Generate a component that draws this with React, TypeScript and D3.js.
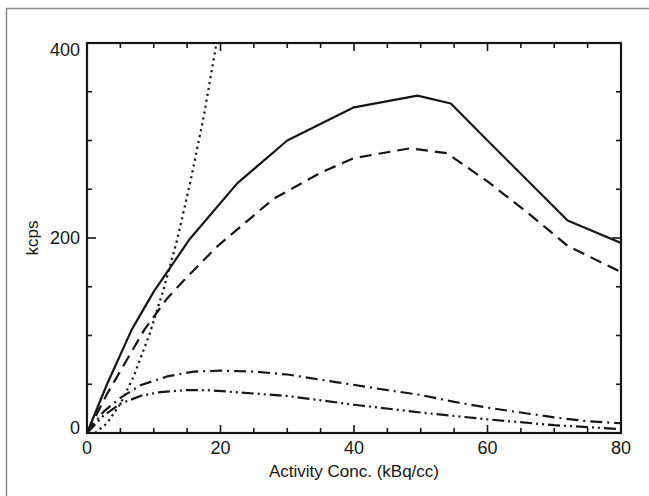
import React from 'react';
import * as d3 from 'd3';

// curves: [activity conc (kBq/cc), kcps]
const totalRate = [[0, 0], [3, 50], [6.7, 106], [10, 145], [15.4, 199], [22.5, 256], [30, 300], [40, 334], [49.5, 346], [54.5, 338], [60, 300], [66, 259], [72, 218], [80, 195]];
const trueRate = [[0, 0], [3, 40], [8.6, 106], [12, 138], [15, 160], [19.6, 192], [27.9, 240], [35, 267], [40, 282], [48.4, 292], [53.9, 287], [60, 258], [66, 226], [72, 192], [80, 165]];
const randomRate = [[1.2, 0], [3, 10], [5, 30], [7, 58], [9.4, 102], [11.5, 148], [13.5, 198], [15.5, 258], [17.5, 325], [19.4, 400], [20, 420]];
const scatterRate = [[0, 0], [2.5, 22], [5, 36], [8, 49], [12, 58], [16, 63], [20, 64], [25, 63], [30, 60], [37.5, 52], [45, 44], [50, 39], [55, 32], [60, 26], [65, 21], [70, 16], [75, 12], [80, 10]];
const multipleRate = [[0, 0], [2.5, 18], [5, 30], [8, 38], [11, 42], [15, 44], [18, 44], [22, 42], [30, 38], [40, 29], [50, 21], [60, 14], [70, 8], [75, 6], [80, 4]];

const xTicks = [0, 20, 40, 60, 80];
const yTicks = [0, 200, 400];

const W = 649;
const H = 496;
const m = { left: 87, right: 621, top: 43, bottom: 433 };
const ink = '#161616';
const font = '"Liberation Sans", Arial, sans-serif';

export default function App() {
  const x = d3.scaleLinear().domain([0, 80]).range([m.left, m.right]);
  const y = d3.scaleLinear().domain([0, 400]).range([m.bottom, m.top]);
  const line = d3.line<number[]>().x(d => x(d[0])).y(d => y(d[1]));

  const xMinor = d3.range(0, 81, 5);
  const yMinor = d3.range(0, 401, 50);

  const series = [
    { data: totalRate, dash: null },
    { data: trueRate, dash: '12,7' },
    { data: randomRate, dash: '2.2,3.8' },
    { data: scatterRate, dash: '12,5,2,5' },
    { data: multipleRate, dash: '12,4,2,4,2,4' },
  ];

  return (
    <svg width={W} height={H} style={{ position: 'absolute', left: 0, top: 0, background: '#fff' }}>
      <rect x={6.5} y={8.5} width={W + 10} height={H + 10} fill="none" stroke="#8a8a8a" strokeWidth={1.5} />
      <defs>
        <clipPath id="plot">
          <rect x={m.left} y={m.top} width={m.right - m.left} height={m.bottom - m.top} />
        </clipPath>
      </defs>

      <g clipPath="url(#plot)" fill="none" stroke={ink} strokeWidth={2.2}>
        {series.map((s, i) => (
          <path key={i} d={line(s.data) || ''} strokeDasharray={s.dash || undefined} strokeLinejoin="round" />
        ))}
      </g>

      <rect x={m.left} y={m.top} width={m.right - m.left} height={m.bottom - m.top} fill="none" stroke={ink} strokeWidth={2.2} />

      <g stroke={ink} strokeWidth={1.6}>
        {xMinor.map(v => {
          const len = v % 20 === 0 ? 8 : 5;
          return (
            <g key={'x' + v}>
              <line x1={x(v)} x2={x(v)} y1={m.bottom} y2={m.bottom - len} />
              <line x1={x(v)} x2={x(v)} y1={m.top} y2={m.top + len} />
            </g>
          );
        })}
        {yMinor.map(v => {
          const len = v % 200 === 0 ? 9 : 5;
          return (
            <g key={'y' + v}>
              <line x1={m.left} x2={m.left + len} y1={y(v)} y2={y(v)} />
              <line x1={m.right} x2={m.right - len} y1={y(v)} y2={y(v)} />
            </g>
          );
        })}
      </g>

      <g fontFamily={font} fontSize={18} fill={ink}>
        {xTicks.map(v => (
          <text key={v} x={x(v)} y={m.bottom + 21} textAnchor="middle">{v}</text>
        ))}
        {yTicks.map(v => (
          <text key={v} x={m.left - 7} y={y(v) + (v === 400 ? 13 : v === 0 ? 1 : 6)} textAnchor="end">{v}</text>
        ))}
        <text x={(m.left + m.right) / 2} y={477} fontSize={17} textAnchor="middle">Activity Conc. (kBq/cc)</text>
        <text transform={`translate(38,${y(200)}) rotate(-90)`} fontSize={17} textAnchor="middle">kcps</text>
      </g>
    </svg>
  );
}
